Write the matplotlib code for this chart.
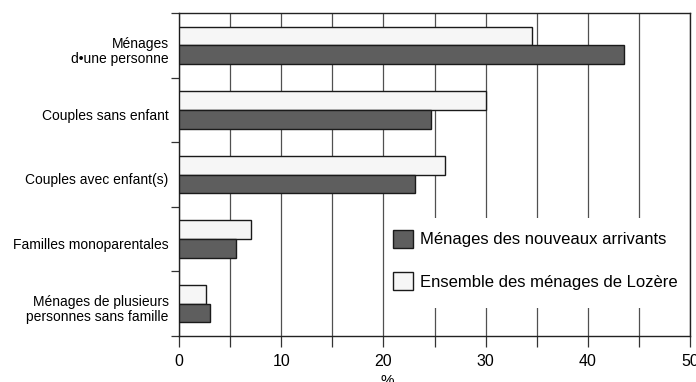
import matplotlib
matplotlib.use("Agg")
import matplotlib.pyplot as plt
from matplotlib.patches import Rectangle, Patch
from matplotlib.ticker import FixedLocator
import numpy as np

plt.rcParams['font.family'] = ['Liberation Sans', 'DejaVu Sans']

categories = [
    "Ménages\nd•une personne",
    "Couples sans enfant",
    "Couples avec enfant(s)",
    "Familles monoparentales",
    "Ménages de plusieurs\npersonnes sans famille",
]
nouveaux_arrivants = [43.5, 24.7, 23.1, 5.6, 3.0]
ensemble_lozere = [34.5, 30.0, 26.0, 7.0, 2.6]
series_labels = ["Ménages des nouveaux arrivants", "Ensemble des ménages de Lozère"]
x_ticks = [0, 10, 20, 30, 40, 50]

dark = "#5e5e5e"
light = "#f6f6f6"
edge = "#1a1a1a"

fig = plt.figure(figsize=(6.96, 3.82), dpi=100)
ax = fig.add_axes([179 / 696, 1 - 336 / 382, 511 / 696, 323 / 382])

y = np.arange(len(categories))
h = 0.29
ax.barh(y - h / 2, ensemble_lozere, height=h, color=light, edgecolor=edge, linewidth=1.0, zorder=3)
ax.barh(y + h / 2, nouveaux_arrivants, height=h, color=dark, edgecolor=edge, linewidth=1.0, zorder=3)

ax.set_xlim(0, 50)
ax.set_ylim(len(categories) - 0.5, -0.5)

# vertical grid every 5 units
ax.xaxis.set_major_locator(FixedLocator(x_ticks))
ax.xaxis.set_minor_locator(FixedLocator([5, 15, 25, 35, 45]))
ax.grid(axis="x", which="both", color="#505050", linewidth=0.9, zorder=1)
ax.tick_params(axis="x", which="both", direction="out", length=8, width=0.9,
               color="#333333", labelsize=11.5, pad=5)
ax.set_xticklabels([str(t) for t in x_ticks])

# category labels (set slightly below group centre), separators as minor ticks
ax.set_yticks(y + 0.065)
ax.set_yticklabels(categories, fontsize=10, linespacing=1.05)
ax.yaxis.set_minor_locator(FixedLocator(np.arange(-0.5, len(categories), 1.0)))
ax.tick_params(axis="y", which="major", length=0, pad=7.5)
ax.tick_params(axis="y", which="minor", direction="out", length=6, width=0.9, color="#333333")

for s in ax.spines.values():
    s.set_linewidth(1.0)
    s.set_color("#222222")

ax.set_xlabel("%", fontsize=11, labelpad=1)
ax.xaxis.set_label_coords(0.407, -0.118)

# legend panel
ax.add_patch(Rectangle((0.403, 0.087), 0.594, 0.278, transform=ax.transAxes,
                       facecolor="white", edgecolor="none", zorder=4))
handles = [Patch(facecolor=dark, edgecolor=edge, linewidth=1.0),
           Patch(facecolor=light, edgecolor=edge, linewidth=1.0)]
leg = ax.legend(handles, series_labels, loc="upper left", bbox_to_anchor=(0.4195, 0.329),
                frameon=False, fontsize=12, handlelength=1.2, handleheight=1.3,
                handletextpad=0.4, labelspacing=1.45, borderaxespad=0, borderpad=0)
leg.set_zorder(5)

fig.savefig("out.png", dpi=100)
